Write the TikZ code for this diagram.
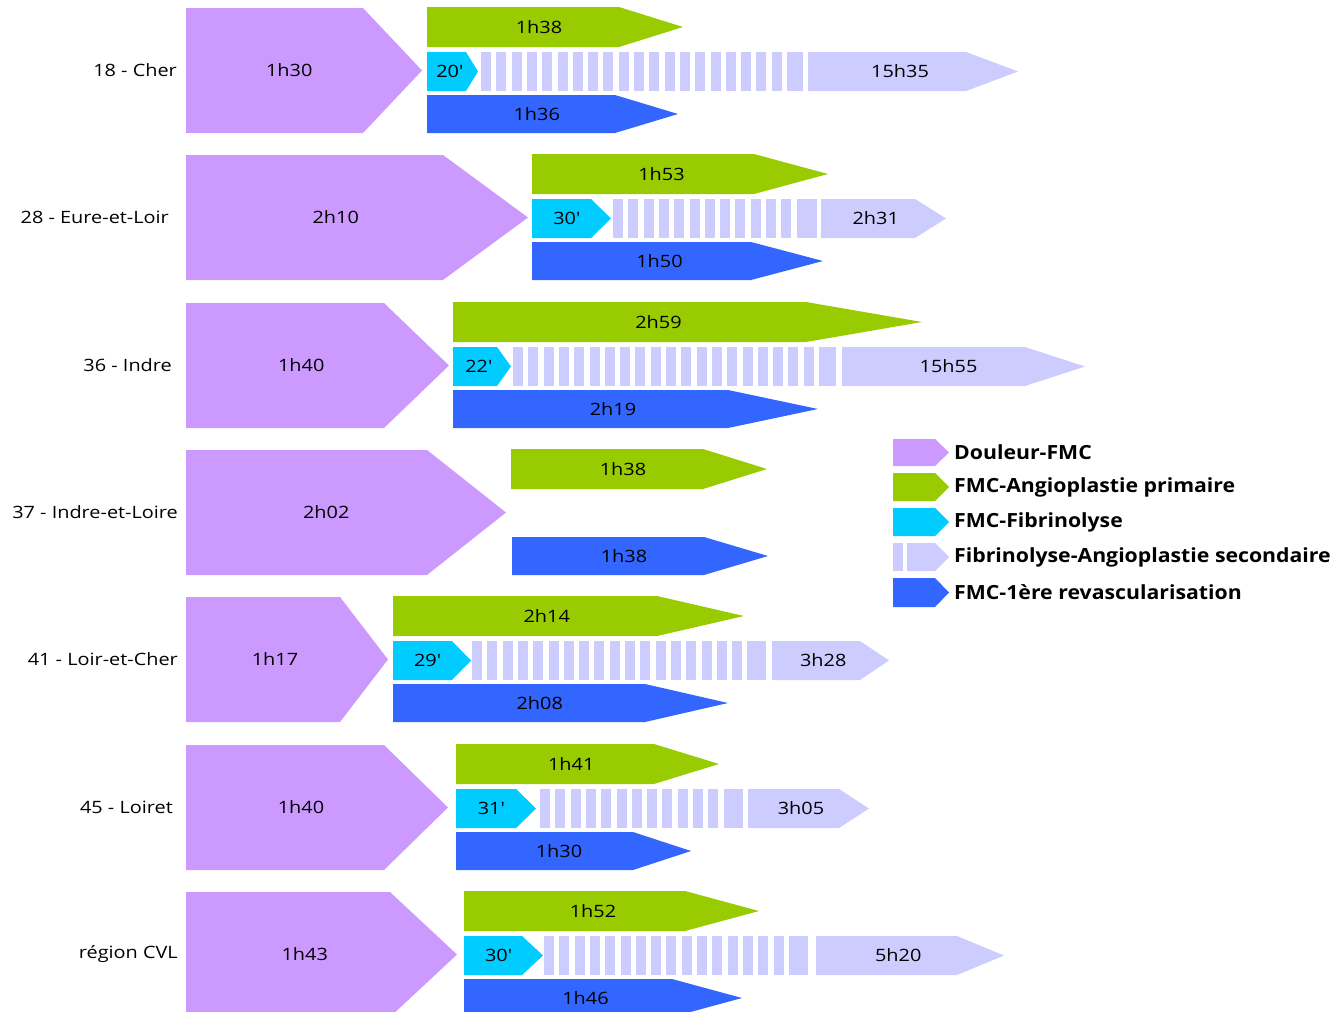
\documentclass[tikz,border=0pt]{standalone}
\usepackage{fontspec}
\setmainfont[FakeStretch=1.17]{Open Sans}
\newfontfamily\legfont[FakeStretch=1.09]{Open Sans}
\definecolor{cPurple}{HTML}{CC99FF}
\definecolor{cGreen}{HTML}{99CC00}
\definecolor{cCyan}{HTML}{00CCFF}
\definecolor{cStripe}{HTML}{CCCCFF}
\definecolor{cBlue}{HTML}{3366FF}
\tikzset{
  lbl/.style={font=\fontsize{17}{20}\selectfont, inner sep=0pt, text=black},
  rowlbl/.style={font=\fontsize{17}{20}\selectfont, inner sep=0pt, anchor=east},
  leglbl/.style={font=\legfont\bfseries\fontsize{19.5}{22}\selectfont, inner sep=0pt, anchor=west},
}
\newcommand\qs{\textquotesingle}
% name, colour, x0, x body end, x tip, y top, y bottom, text
\newcommand\arrowbar[8]{%
  \fill[#2] (#3,#6) -- (#4,#6) -- (#5,{(#6+#7)/2}) -- (#4,#7) -- (#3,#7) -- cycle;
  \node[lbl] (#1) at ({(#3+(#4+#5)/2)/2},{(#6+#7)/2}) {#8};
}
% x0, x1, y top, y bottom
\newcommand\stripes[4]{%
  \pgfmathtruncatemacro\nst{floor((#2-#1)/15.3)}
  \foreach \i in {1,...,\nst}{%
    \pgfmathsetmacro\xa{#1+(\i-1)*15.3}
    \pgfmathsetmacro\xe{ifthenelse(\i==\nst,#2,\xa+10)}
    \fill[cStripe] (\xa,#3) rectangle (\xe,#4);
  }
}
\begin{document}
\begin{tikzpicture}[x=1pt,y=-1pt]
\useasboundingbox (0,0) rectangle (1336,1012);
% Row 1
\node[rowlbl] (l1) at (177,70.5) {18 - Cher};
\arrowbar{p1}{cPurple}{186}{363}{422}{8}{133}{1h30}
\arrowbar{g1}{cGreen}{427}{619}{683}{7}{47}{1h38}
\arrowbar{c1}{cCyan}{427}{466}{478}{52}{91}{20\qs}
\stripes{481}{803}{52}{91}
\arrowbar{s1}{cStripe}{808}{966}{1018}{52}{91}{15h35}
\arrowbar{b1}{cBlue}{427}{615}{678}{95}{133}{1h36}
% Row 2
\node[rowlbl] (l2) at (169,217.5) {28 - Eure-et-Loir};
\arrowbar{p2}{cPurple}{186}{443}{528}{155}{280}{2h10}
\arrowbar{g2}{cGreen}{532}{754}{828}{154}{194}{1h53}
\arrowbar{c2}{cCyan}{532}{591}{611}{199}{238}{30\qs}
\stripes{613}{817}{199}{238}
\arrowbar{s2}{cStripe}{821}{915}{946}{199}{238}{2h31}
\arrowbar{b2}{cBlue}{532}{751}{823}{242}{280}{1h50}
% Row 3
\node[rowlbl] (l3) at (172,365.5) {36 - Indre};
\arrowbar{p3}{cPurple}{186}{384}{449}{303}{428}{1h40}
\arrowbar{g3}{cGreen}{453}{806}{922}{302}{342}{2h59}
\arrowbar{c3}{cCyan}{453}{497}{511}{347}{386}{22\qs}
\stripes{513}{836}{347}{386}
\arrowbar{s3}{cStripe}{842}{1025}{1085}{347}{386}{15h55}
\arrowbar{b3}{cBlue}{453}{728}{818}{390}{428}{2h19}
% Row 4
\node[rowlbl] (l4) at (178,512.5) {37 - Indre-et-Loire};
\arrowbar{p4}{cPurple}{186}{427}{506}{450}{575}{2h02}
\arrowbar{g4}{cGreen}{511}{703}{767}{449}{489}{1h38}
\arrowbar{b4}{cBlue}{512}{704}{768}{537}{575}{1h38}
% Row 5
\node[rowlbl] (l5) at (178,659.5) {41 - Loir-et-Cher};
\arrowbar{p5}{cPurple}{186}{340}{388}{597}{722}{1h17}
\arrowbar{g5}{cGreen}{393}{657}{744}{596}{636}{2h14}
\arrowbar{c5}{cCyan}{393}{452}{471}{641}{680}{29\qs}
\stripes{472}{766}{641}{680}
\arrowbar{s5}{cStripe}{772}{860}{889}{641}{680}{3h28}
\arrowbar{b5}{cBlue}{393}{645}{728}{684}{722}{2h08}
% Row 6
\node[rowlbl] (l6) at (173,807.5) {45 - Loiret};
\arrowbar{p6}{cPurple}{186}{384}{448}{745}{870}{1h40}
\arrowbar{g6}{cGreen}{456}{654}{719}{744}{784}{1h41}
\arrowbar{c6}{cCyan}{456}{516}{536}{789}{828}{31\qs}
\stripes{540}{743}{789}{828}
\arrowbar{s6}{cStripe}{748}{839}{869}{789}{828}{3h05}
\arrowbar{b6}{cBlue}{456}{633}{691}{832}{870}{1h30}
% Row 7
\node[rowlbl] (l7) at (178,954.5) {région CVL};
\arrowbar{p7}{cPurple}{186}{390}{457}{892}{1017}{1h43}
\arrowbar{g7}{cGreen}{464}{685}{759}{891}{931}{1h52}
\arrowbar{c7}{cCyan}{464}{522}{543}{936}{975}{30\qs}
\stripes{544}{808}{936}{975}
\arrowbar{s7}{cStripe}{816}{957}{1004}{936}{975}{5h20}
\arrowbar{b7}{cBlue}{464}{672}{742}{979}{1017}{1h46}
% Legend
\arrowbar{kp}{cPurple}{893}{935}{949}{439}{466}{}
\arrowbar{kg}{cGreen}{893}{935}{949}{473}{501}{}
\arrowbar{kc}{cCyan}{893}{935}{949}{508}{536}{}
\fill[cStripe] (893,543) rectangle (903,571);
\arrowbar{ks}{cStripe}{907}{935}{949}{543}{571}{}
\arrowbar{kb}{cBlue}{893}{935}{949}{578}{607}{}
\node[leglbl] (tp) at (954,452.5) {Douleur-FMC};
\node[leglbl] (tg) at (954,487) {FMC-Angioplastie primaire};
\node[leglbl] (tc) at (954,522) {FMC-Fibrinolyse};
\node[leglbl] (ts) at (954,557) {Fibrinolyse-Angioplastie secondaire};
\node[leglbl] (tb) at (954,592.5) {FMC-1ère revascularisation};
\end{tikzpicture}
\end{document}
